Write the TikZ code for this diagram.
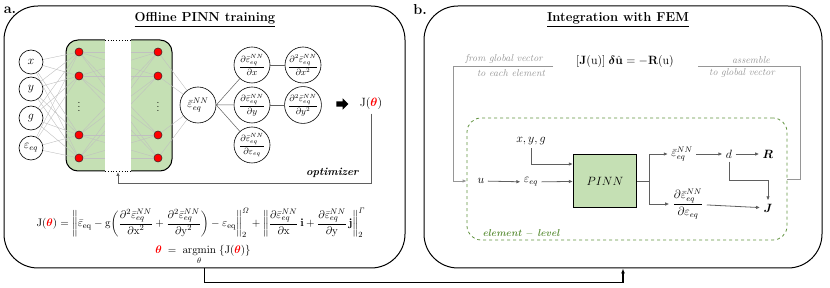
\documentclass[tikz,border=0pt]{standalone}
\usepackage{amsmath,amssymb}
\usepackage{tikz}
\usetikzlibrary{calc,arrows.meta,shapes.arrows}
\usepackage{xcolor}
\definecolor{leaf}{RGB}{197,224,180}
\definecolor{moss}{RGB}{96,146,62}
\definecolor{wire}{RGB}{192,192,192}
\definecolor{flowc}{RGB}{95,95,95}
\definecolor{feedc}{RGB}{150,150,150}
\tikzset{
  ppanel/.style={draw,line width=1pt,rounded corners=34pt,inner sep=0pt},
  pin/.style={circle,draw,line width=0.6pt,minimum size=24pt,inner sep=0pt,fill=white,font=\large},
  pneuron/.style={circle,draw=black!80,fill=red,line width=0.4pt,minimum size=8pt,inner sep=0pt},
  pwire/.style={wire,line width=0.4pt},
  pderiv/.style={circle,draw,line width=0.6pt,minimum size=36pt,inner sep=0pt,font=\small},
  pflow/.style={flowc,line width=0.8pt,-{Latex[length=4pt,width=3.5pt]}},
  pfeed/.style={feedc,line width=0.8pt},
  pgray/.style={feedc,font=\normalsize\itshape,inner sep=1pt},
  plink/.style={line width=1.2pt,-{Latex[length=5pt,width=4pt]}},
}
\newcommand{\epsNN}{\bar{\varepsilon}^{NN}_{eq}}
\newcommand{\thb}{{\color{red}\boldsymbol{\theta}}}

\begin{document}
\begin{tikzpicture}[x=1pt,y=-1pt]
  \useasboundingbox (0,0) rectangle (830,288);
  \node[ppanel,minimum width=401pt,minimum height=262pt] (pa) at (204.5,137) {};
  \node[ppanel,minimum width=398pt,minimum height=262pt] (pb) at (623,137) {};
  \node[font=\bfseries\Large] (la) at (10,10) {a.};
  \node[font=\bfseries\Large] (lb) at (420,10) {b.};
  \node[font=\bfseries\fontsize{13}{15}\selectfont] (ta) at (205,20) {\underline{Offline PINN training}};
  \node[font=\bfseries\fontsize{13}{15}\selectfont] (tb) at (618,20) {\underline{Integration with FEM}};
  \foreach \y/\n/\lab in {62/ix/{$x$},89/iy/{$y$},118/ig/{$g$},148/ie/{$\varepsilon_{eq}$}}
    {\node[pin] (\n) at (31,\y) {\lab};}
  \node[draw,fill=leaf,line width=1pt,rounded corners=12pt,minimum width=106pt,minimum height=131pt] (net) at (119,105.5) {};
  \foreach \y/\k in {52/1,76/2,135/3,158/4}
    {\node[pneuron] (l\k) at (79,\y) {}; \node[pneuron] (r\k) at (158,\y) {};}
  \node[pin,minimum size=36pt] (out) at (198,105) {$\epsNN$};
  \foreach \i in {ix,iy,ig,ie}
    \foreach \k in {1,...,4} {\draw[pwire] (\i) -- (l\k);}
  \foreach \a in {1,...,4}
    \foreach \b in {1,...,4} {\draw[pwire] (l\a) -- (r\b);}
  \foreach \k in {1,...,4} {\draw[pwire] (r\k) -- (out);}
  \fill[white] (105,36) rectangle (131,175);
  \draw[dotted,line width=0.8pt] (105,40) -- (131,40) (105,171) -- (131,171);
  \foreach \k in {1,...,4} {\node[pneuron] at (l\k) {}; \node[pneuron] at (r\k) {};}
  \node (vl) at (79,104) {$\vdots$};
  \node (vr) at (158,104) {$\vdots$};
  \node[pderiv] (dx) at (252,65) {$\dfrac{\partial\epsNN}{\partial x}$};
  \node[pderiv] (dy) at (252,105) {$\dfrac{\partial\epsNN}{\partial y}$};
  \node[pderiv] (de) at (252,145) {$\dfrac{\partial\epsNN}{\partial\varepsilon_{eq}}$};
  \node[pderiv] (dxx) at (303,65) {$\dfrac{\partial^2\epsNN}{\partial x^2}$};
  \node[pderiv] (dyy) at (303,105) {$\dfrac{\partial^2\epsNN}{\partial y^2}$};
  \draw[flowc,line width=0.5pt] (out.east) -- (dx) (out.east) -- (dy) (out.east) -- (de);
  \draw[flowc,line width=0.5pt] (dx) -- (dxx) (dy) -- (dyy);
  \node[single arrow,fill=black,inner sep=2.5pt,minimum height=12pt,single arrow head extend=3pt] (barr) at (341,104) {};
  \node[font=\large] (J) at (371,104) {$\mathrm{J}(\thb)$};
  \coordinate (optC) at (371,183);
  \coordinate (gapB) at (118,172);
  \draw[flowc,line width=0.8pt,-{Latex[length=4pt,width=3.5pt]}] (J.south) -- (optC) -| (gapB);
  \node[font=\bfseries\itshape\fontsize{11}{13}\selectfont,anchor=east] (optlbl) at (362,173) {optimizer};
  \node[font=\fontsize{10.8}{13}\selectfont] (jeq) at (201,223) {$\mathrm{J}(\thb) = \biggl\|\bar{\varepsilon}_{\mathrm{eq}} - \mathrm{g}\biggl(\dfrac{\partial^2\epsNN}{\partial\mathrm{x}^2}+\dfrac{\partial^2\epsNN}{\partial\mathrm{y}^2}\biggr)-\varepsilon_{\mathrm{eq}}\biggr\|_2^{\mathit{\Omega}} + \biggl\|\dfrac{\partial\epsNN}{\partial\mathrm{x}}\,\mathbf{i}+\dfrac{\partial\epsNN}{\partial\mathrm{y}}\,\mathbf{j}\biggr\|_2^{\mathit{\Gamma}}$};
  \node[font=\fontsize{11}{13}\selectfont] (argm) at (203,255) {$\thb\;=\;\underset{\theta}{\mathrm{argmin}}\;\{\mathrm{J}(\thb)\}$};
  \draw[plink] (pa.south) -- ++(0,14) -| (pb.south);
  \node[font=\large] (feq) at (625,62) {$[\mathbf{J}(\mathrm{u})]\;\boldsymbol{\delta}\hat{\mathbf{u}} = -\mathbf{R}(\mathrm{u})$};
  \node[draw=moss,dashed,line width=0.8pt,rounded corners=14pt,minimum width=320pt,minimum height=122pt] (elem) at (627,179) {};
  \node[font=\bfseries\itshape\normalsize,text=moss] (ell) at (521,233) {element $-$ level};
  \node[pgray] (fg) at (504,59) {from global vector};
  \node[pgray] (te) at (511,73) {to each element};
  \node[pgray] (asm) at (751,60) {assemble};
  \node[pgray] (tg) at (742,73) {to global vector};
  \coordinate (fgR) at (553,66);
  \coordinate (fgL) at (453,66);
  \coordinate (asL) at (698,66);
  \coordinate (asR) at (800,66);
  \node[font=\large] (u) at (481,181) {$u$};
  \node[font=\large] (ee) at (531,182) {$\varepsilon_{eq}$};
  \node[font=\large] (xyg) at (531,141) {$x,y,g$};
  \node[draw,fill=leaf,line width=1.2pt,minimum width=63pt,minimum height=53pt,font=\large] (pinn) at (605,181) {$PINN$};
  \draw[pfeed,-{Latex[length=4pt,width=3.5pt]}] (fgR) -- (fgL) |- (elem.west |- u);
  \draw[pfeed] (asL) -- (asR) |- (elem.east);
  \draw[pflow] (u) -- (ee);
  \draw[pflow] (ee) -- (pinn);
  \draw[pflow] (xyg.south) |- ($(pinn.west)+(0,-17)$);
  \coordinate (spl) at (649,181);
  \node[font=\large] (eo) at (682,154) {$\epsNN$};
  \node[font=\large] (dd) at (729,154) {$d$};
  \node[font=\large] (RR) at (768,154) {$\boldsymbol{R}$};
  \node[font=\large] (df) at (688,204) {$\dfrac{\partial\epsNN}{\partial\varepsilon_{eq}}$};
  \node[font=\large] (JJ) at (768,208) {$\boldsymbol{J}$};
  \coordinate (dJ) at (768,180);
  \draw[flowc,line width=0.8pt] (pinn.east) -- (spl);
  \draw[pflow] (spl) |- (eo.west);
  \draw[pflow] (spl) |- (df.west);
  \draw[pflow] (eo) -- (dd);
  \draw[pflow] (dd) -- (RR);
  \draw[pflow] (df) -- (JJ);
  \draw[pflow] (dd.south) |- (dJ) -- (JJ.north);
\end{tikzpicture}
\end{document}
